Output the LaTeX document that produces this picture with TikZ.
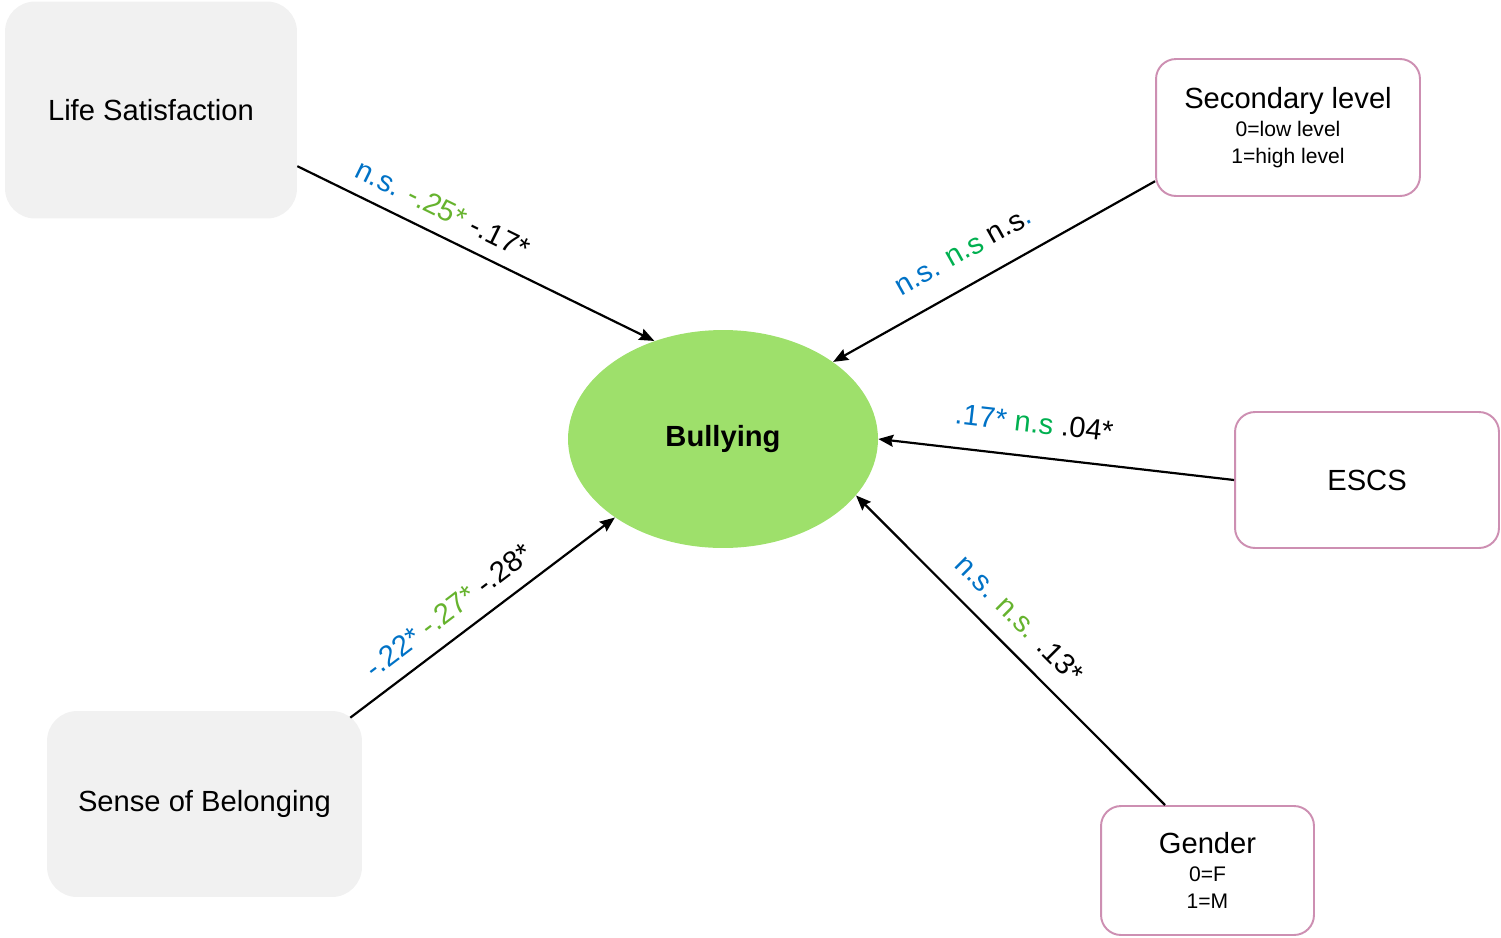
\documentclass[tikz,border=0pt]{standalone}
\usepackage{fontspec}
\setmainfont{Liberation Sans}
\usetikzlibrary{shapes.geometric, arrows.meta, positioning, calc}

\definecolor{nsblue}{RGB}{0,114,198}
\definecolor{lightgreen}{RGB}{102,179,46}
\definecolor{darkgreen}{RGB}{0,176,80}
\definecolor{boxgray}{RGB}{241,241,241}
\definecolor{boxpink}{RGB}{205,143,178}
\definecolor{bullygreen}{RGB}{158,224,107}
\newcommand{\bigtxt}{\fontsize{16.6}{19}\selectfont}
\newcommand{\smalltxt}{\fontsize{12}{15}\selectfont}

\begin{document}
\begin{tikzpicture}[x=0.02cm, y=-0.02cm]
        \tikzstyle{factor} = [rectangle, rounded corners=0.6cm, fill=boxgray, text centered, align=center, font=\bigtxt]
        \tikzstyle{control} = [rectangle, rounded corners=0.4cm, draw=boxpink, line width=1.1pt, fill=white, text centered, align=center, font=\smalltxt]
        \tikzstyle{outcome} = [ellipse, fill=bullygreen, minimum width=6.2cm, minimum height=4.36cm, inner sep=0pt, font=\bigtxt\bfseries]
        \tikzstyle{arrow} = [line width=1.25pt, -{Stealth[length=0.3cm, width=0.24cm, inset=0.04cm]}]
        \tikzstyle{coef} = [sloped, above, inner sep=0.35cm, font=\bigtxt]

        \useasboundingbox (0,0) rectangle (1501,937);

        \node (bully) [outcome] at (723,439) {Bullying};
        \node (life) [factor, minimum width=5.84cm, minimum height=4.34cm] at (151,110) {Life Satisfaction};
        \node (belong) [factor, minimum width=6.3cm, minimum height=3.72cm] at (204.5,804) {Sense of Belonging};
        \node (second) [control, minimum width=5.28cm, minimum height=2.74cm] at (1288,127.5) {{\bigtxt Secondary level}\\[1pt]0=low level\\1=high level};
        \node (escs) [control, font=\bigtxt, minimum width=5.28cm, minimum height=2.72cm] at (1367,480) {ESCS};
        \node (gender) [control, minimum width=4.26cm, minimum height=2.58cm] at (1207.5,870.5) {{\bigtxt Gender}\\[1pt]0=F\\1=M};

        \draw [arrow] (life.-21) -- node[coef, pos=0.376, inner sep=0.28cm] {{\color{nsblue}n.s.} {\color{lightgreen}-.25*} -.17*} (bully.125);
        \draw [arrow] (second.202) -- node[coef, pos=0.546, inner sep=0.45cm] {{\color{nsblue}n.s.} {\color{darkgreen}n.s} n.s{\color{nsblue}.}} (bully.35);
        \draw [arrow] (escs.west) -- node[coef, pos=0.573, inner sep=0.45cm] {{\color{nsblue}.17*} {\color{darkgreen}n.s} .04*} (bully.east);
        \draw [arrow] (gender.123) -- node[coef, pos=0.536] {{\color{nsblue}n.s.} {\color{lightgreen}n.s.} .13*} (bully.-23);
        \draw [arrow] ($(belong.north east)+(-12,7)$) -- node[coef, pos=0.43, inner sep=0.3cm] {{\color{nsblue}-.22*} {\color{lightgreen}-.27*} -.28*} (bully.216);
    \end{tikzpicture}
\end{document}
